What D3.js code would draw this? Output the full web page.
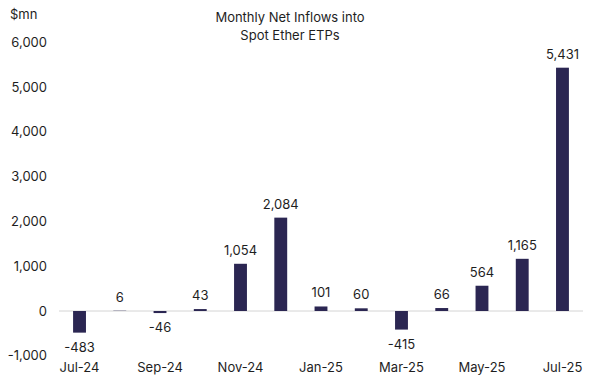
<!DOCTYPE html>
<html><head><meta charset="utf-8">
<script src="https://cdn.jsdelivr.net/npm/d3@7"></script>
<style>body{margin:0;background:#fff;} text{font-family:Inter, "Noto Sans", sans-serif;}</style>
</head><body>
<svg id="c" width="596" height="379"></svg>
<script>
const months = ["Jul-24","Aug-24","Sep-24","Oct-24","Nov-24","Dec-24","Jan-25","Feb-25","Mar-25","Apr-25","May-25","Jun-25","Jul-25"];
const inflows = [-483, 6, -46, 43, 1054, 2084, 101, 60, -415, 66, 564, 1165, 5431];
const yTicks = [-1000, 0, 1000, 2000, 3000, 4000, 5000, 6000];
const xTickLabels = ["Jul-24","Sep-24","Nov-24","Jan-25","Mar-25","May-25","Jul-25"];
const titleLines = ["Monthly Net Inflows into", "Spot Ether ETPs"];

const svg = d3.select("#c");
const x = d3.scaleBand().domain(months).range([59.4, 582.6]).paddingInner(0.68).paddingOuter(0.34);
const y = d3.scaleLinear().domain([-1000, 6000]).range([355.8, 42.2]);
const f0 = d3.format(",");
const fmt = d => f0(d).replace("\u2212", "-");
const col = "#2b2652";
const txt = "#1e1e1e";

// y axis labels
const ya = svg.append("g").attr("transform","translate(47,0)")
  .call(d3.axisLeft(y).tickValues(yTicks).tickFormat(fmt).tickSize(0).tickPadding(0));
ya.select(".domain").remove();
ya.selectAll("text").attr("font-size",13).attr("fill",txt).style("font-family","Inter, sans-serif");

// zero line
svg.append("line").attr("x1",59).attr("x2",583).attr("y1",y(0)).attr("y2",y(0))
  .attr("stroke","#d4d4d4").attr("stroke-width",1);

// bars
svg.selectAll("rect.bar").data(inflows).enter().append("rect")
  .attr("x",(d,i)=>x(months[i]))
  .attr("width",x.bandwidth())
  .attr("y",d=>y(Math.max(0,d)))
  .attr("height",d=>Math.abs(y(d)-y(0)))
  .attr("fill",col);

// value labels
svg.selectAll("text.val").data(inflows).enter().append("text")
  .attr("x",(d,i)=>x(months[i])+x.bandwidth()/2)
  .attr("y",d=> d>=0 ? Math.min(y(d), y(0)) - 9 : y(d)+19)
  .attr("text-anchor","middle").attr("font-size",13).attr("fill",txt)
  .text(d=>fmt(d));

// x axis labels
const xa = svg.append("g").attr("transform","translate(0,363)")
  .call(d3.axisBottom(x).tickValues(xTickLabels).tickSize(0).tickPadding(0));
xa.select(".domain").remove();
xa.selectAll("text").attr("font-size",13).attr("fill",txt).style("font-family","Inter, sans-serif");

// unit label
svg.append("text").attr("x",10).attr("y",19).attr("font-size",13).attr("fill",txt).text("$mn");

// title
svg.append("text").attr("x",290).attr("y",22).attr("text-anchor","middle").attr("font-size",13).attr("fill",txt)
  .selectAll("tspan").data(titleLines).enter().append("tspan")
  .attr("x",290).attr("dy",(d,i)=>i?18:0).text(d=>d);
</script>
</body></html>
